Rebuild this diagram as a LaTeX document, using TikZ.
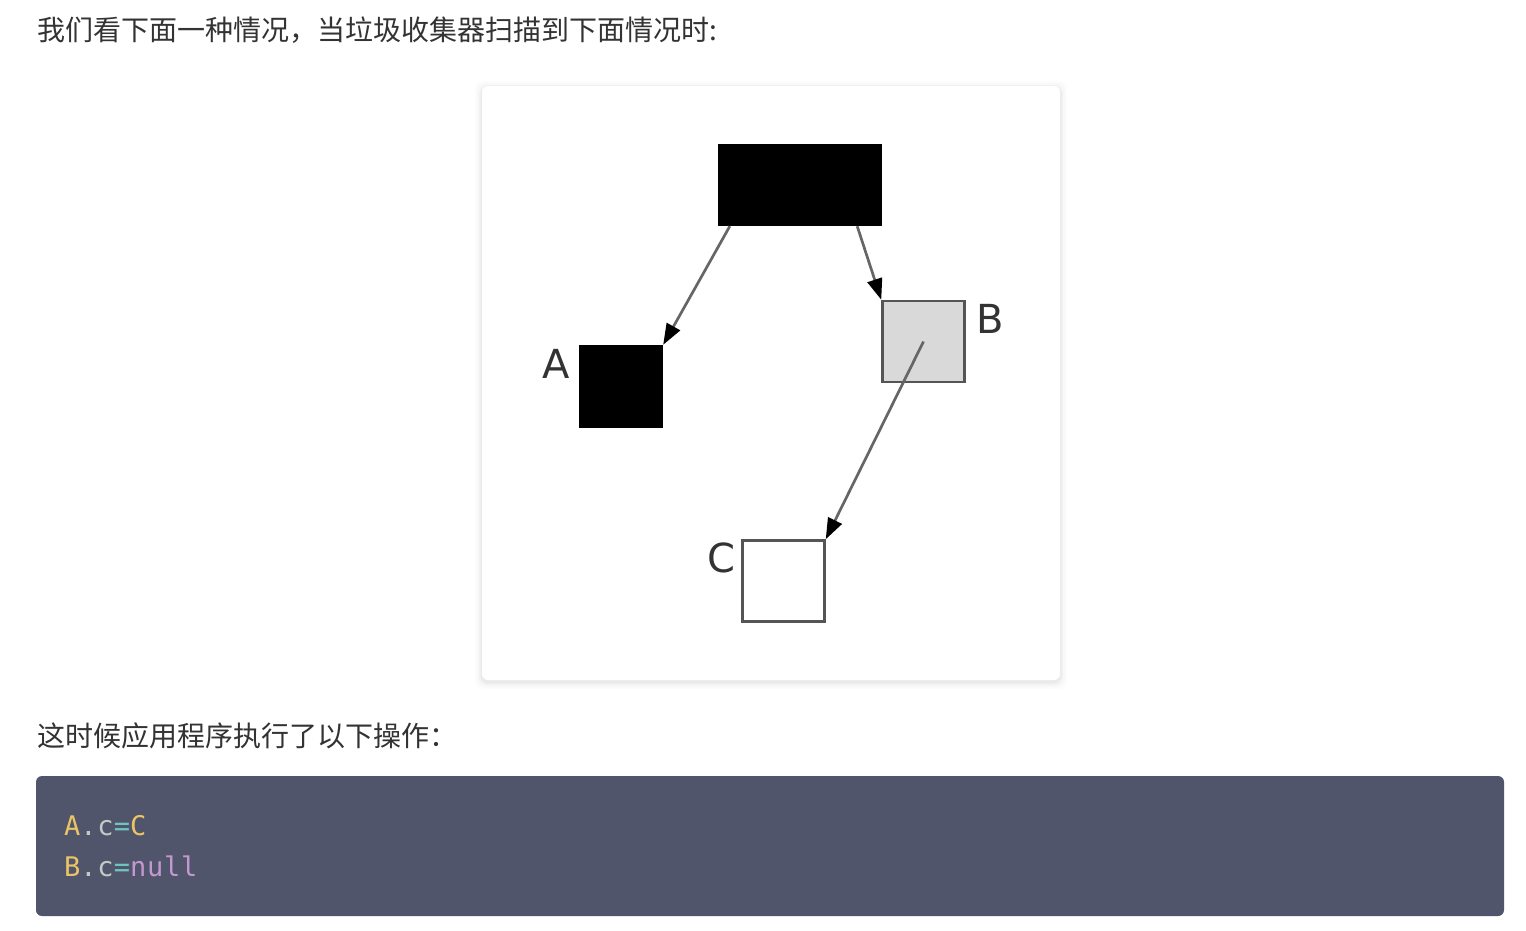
\documentclass[tikz,border=0pt]{standalone}
\usepackage{fontspec}
\setmainfont{DejaVu Sans}
\newfontfamily\cjk{Noto Sans CJK SC}
\newfontfamily\codefont[LetterSpace=3]{DejaVu Sans Mono}
\usetikzlibrary{arrows.meta}
\definecolor{txt}{HTML}{333333}
\definecolor{boxline}{HTML}{555555}
\definecolor{lightfill}{HTML}{D9D9D9}
\definecolor{arrline}{HTML}{666666}
\definecolor{codebg}{HTML}{50556B}
\definecolor{cyellow}{HTML}{EBC465}
\definecolor{cgray}{HTML}{C5C8C6}
\definecolor{cteal}{HTML}{6FC6BE}
\definecolor{cpurple}{HTML}{C397D0}
\begin{document}
\begin{tikzpicture}[x=1pt,y=-1pt,
  cjktext/.style={anchor=west,inner sep=0,text=txt,font=\cjk\fontsize{28}{33}\selectfont},
  objbox/.style={rectangle,inner sep=0,minimum width=82pt,minimum height=81pt},
  label/.style={inner sep=0,text=txt,font=\fontsize{40}{44}\selectfont},
  arr/.style={draw=arrline,line width=2.7pt,-{Triangle[length=21pt,width=15pt,fill=black,color=black]}},
  codeline/.style={anchor=base west,inner sep=0,font=\codefont\fontsize{27}{32}\selectfont}]
\useasboundingbox (0,0) rectangle (1526,930);
\fill[white] (0,0) rectangle (1526,930);
% top text
\node[cjktext] (t1) at (37,30) {我们看下面一种情况，当垃圾收集器扫描到下面情况时:};
% card with soft shadow
\foreach \e/\op in {7/0.012,5/0.016,3/0.022,1.5/0.03}{
  \fill[black,opacity=\op,rounded corners=8pt] (482-\e,86-\e+2) rectangle (1060+\e,680+\e+2);
}
\fill[white,rounded corners=6pt] (482,86) rectangle (1060,680);
% objects
\node[rectangle,inner sep=0,minimum width=164pt,minimum height=82pt,fill=black] (root) at (800,185) {};
\node[objbox,fill=black,minimum width=84pt,minimum height=83pt] (A) at (621,386.5) {};
\node[objbox,fill=lightfill,draw=boxline,line width=2.5pt] (B) at (923.5,341.5) {};
\node[objbox,fill=white,draw=boxline,line width=2.5pt] (C) at (783.5,581) {};
\node[label] (lA) at (556,364) {A};
\node[label] (lB) at (990,319) {B};
\node[label] (lC) at (721,558) {C};
% connectors
\draw[arr] ([xshift=12pt]root.south west) -- (A.north east);
\draw[arr] ([xshift=-25pt]root.south east) -- (B.north west);
\draw[arr] (B.center) -- (C.north east);
% second text
\node[cjktext] (t2) at (37,736) {这时候应用程序执行了以下操作：};
% code block
\fill[codebg,rounded corners=6pt] (36,776) rectangle (1504,916);
\node[codeline] (code1) at (64,835) {\textcolor{cyellow}{A}\textcolor{cgray}{.c}\textcolor{cteal}{=}\textcolor{cyellow}{C}};
\node[codeline] (code2) at (64,876) {\textcolor{cyellow}{B}\textcolor{cgray}{.c}\textcolor{cteal}{=}\textcolor{cpurple}{null}};
\end{tikzpicture}
\end{document}
